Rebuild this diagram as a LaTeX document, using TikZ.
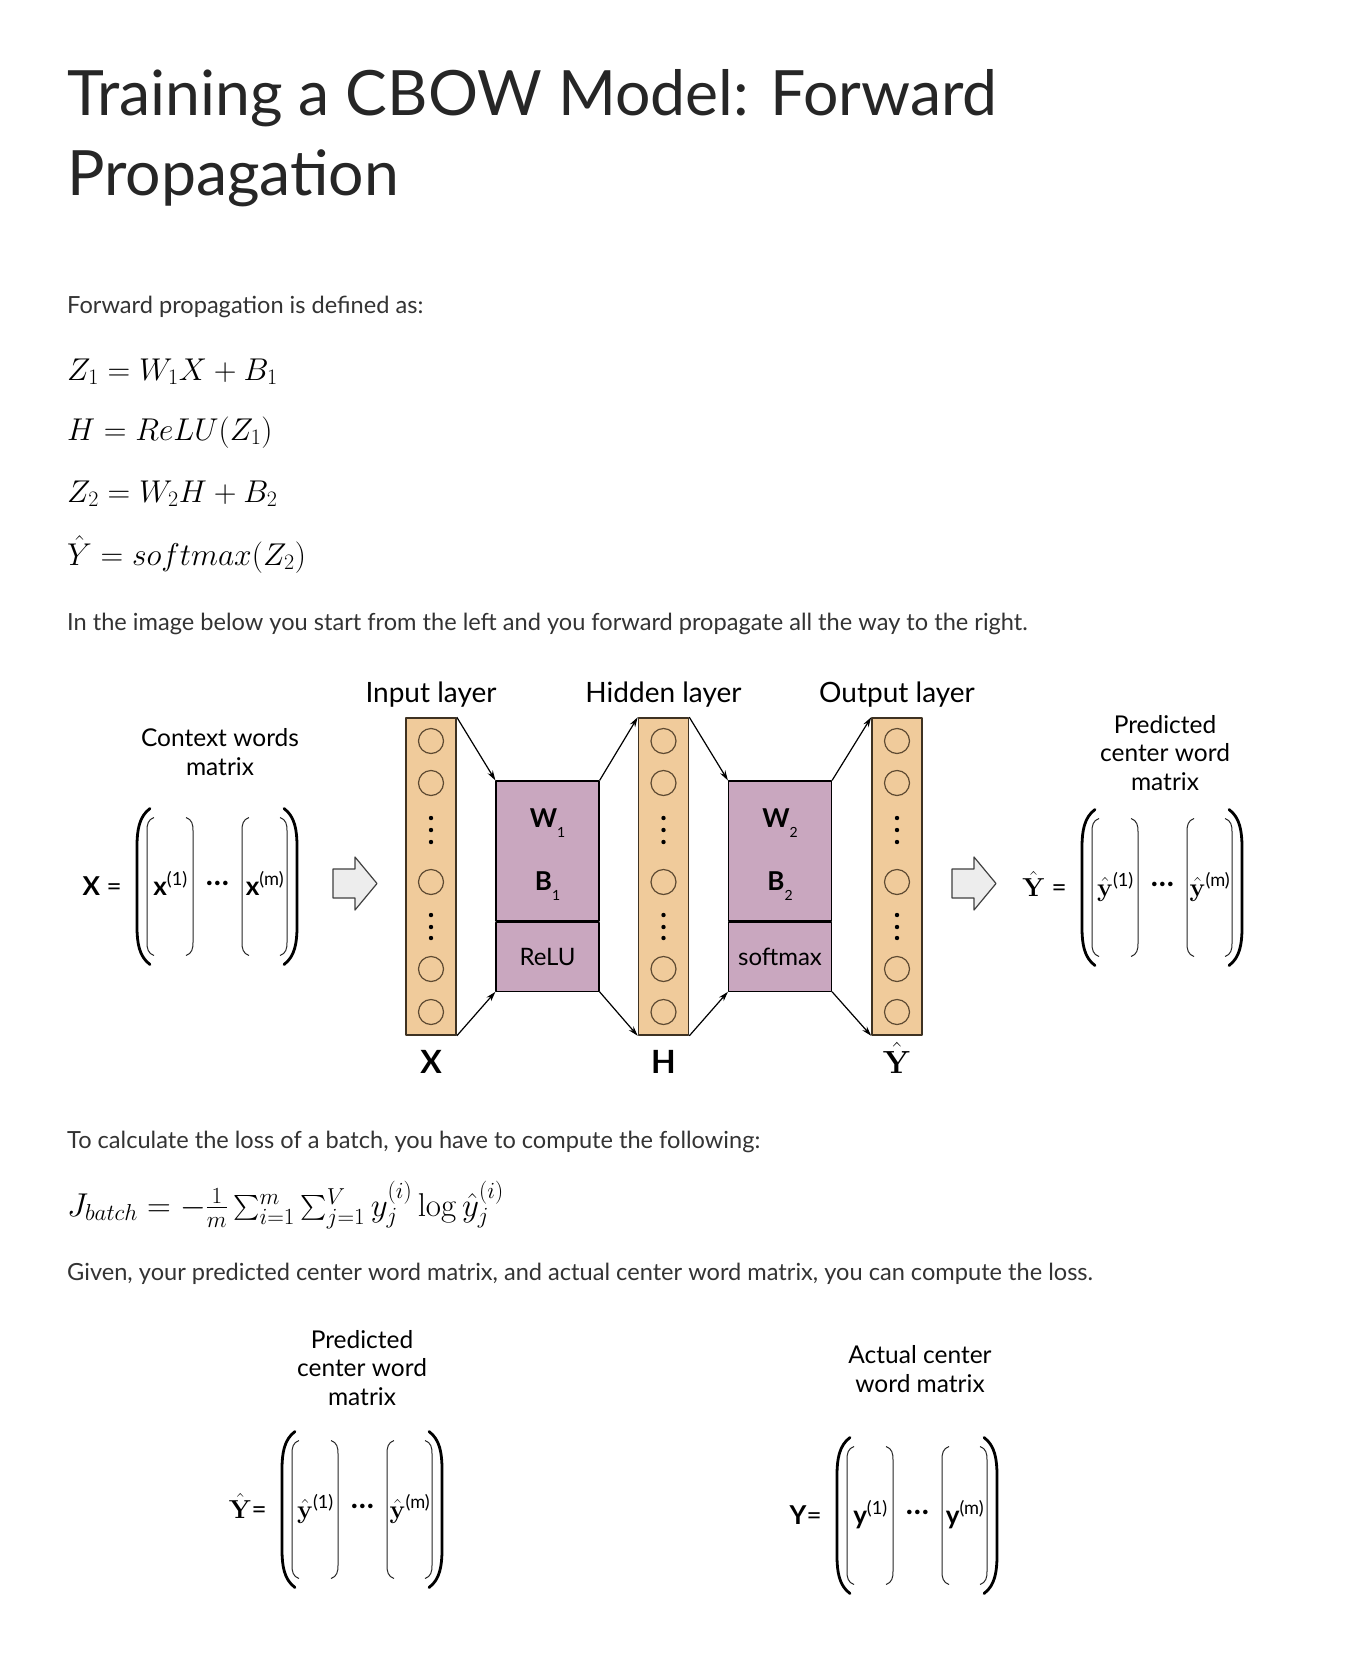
\RequirePackage{fix-cm}
\documentclass[tikz,border=0pt]{standalone}
\usepackage{amsmath}
\usepackage[no-math]{fontspec}
\setmainfont{Lato}
\usetikzlibrary{arrows.meta,positioning}

\definecolor{layertan}{HTML}{F0CB9B}
\definecolor{layeredge}{HTML}{3E3222}
\definecolor{neuronedge}{HTML}{5E4A32}
\definecolor{paramviolet}{HTML}{C9A7BF}
\definecolor{txtgray}{HTML}{333333}
\definecolor{titlegray}{HTML}{262626}

% subscript set low and apart, as in the layer boxes
\newcommand{\lowsub}[1]{\raisebox{-10pt}{\fontsize{14}{14}\selectfont\mdseries #1}}

\begin{document}
\begin{tikzpicture}[x=1pt, y=1pt, >={Stealth[length=10pt,width=6pt]}, line join=round,
    title/.style={anchor=base west, inner sep=0pt, text=titlegray, font=\fontsize{62.5}{75}\selectfont},
    body/.style={anchor=base west, inner sep=0pt, text=txtgray, font=\fontsize{23.6}{28}\selectfont},
    eqn/.style={anchor=base west, inner sep=0pt, text=black, font=\fontsize{31.5}{36}\selectfont},
    layer/.style={draw=layeredge, line width=1.6pt, fill=layertan, minimum width=50pt, minimum height=317pt, inner sep=0pt},
    param/.style={draw=black, line width=1.2pt, fill=paramviolet, minimum width=103pt, inner sep=0pt, font=\fontsize{24}{28}\selectfont},
    weight/.style={anchor=base, inner sep=0pt, font=\fontsize{26}{30}\selectfont\bfseries},
    headlabel/.style={anchor=base, inner sep=0pt, font=\fontsize{28}{32}\selectfont},
    footlabel/.style={anchor=base, inner sep=0pt, font=\fontsize{32}{36}\selectfont\bfseries},
    caption/.style={anchor=base, align=center, inner sep=0pt, font=\fontsize{24.5}{28.5}\selectfont},
    neuron/.style={draw=neuronedge, line width=1.2pt},
    flow/.style={->, line width=1.2pt},
    hollowarrow/.style={draw=black!75, line width=1.2pt, fill=black!7},
    outerparen/.style={line width=2.8pt, line cap=round},
    innerparen/.style={line width=1pt, draw=black!85},
    vector/.style={anchor=base, inner sep=0pt, font=\fontsize{26}{30}\selectfont},
    matlabel/.style={anchor=base east, inner sep=0pt, font=\fontsize{26}{30}\selectfont}]

    \fill[white] (0,0) rectangle (1360,-1670);
    \useasboundingbox (0,0) rectangle (1360,-1670);

    % title and text above the figure
    \node[title] (title1) at (67,-115) {Training a CBOW Model: Forward};
    \node[title] (title2) at (67,-195) {Propagation};
    \node[body] (intro) at (67,-313) {Forward propagation is defined as:};
    \node[eqn] (eq1) at (67,-380) {$Z_1 = W_1X + B_1$};
    \node[eqn] (eq2) at (67,-440) {$H = ReLU(Z_1)$};
    \node[eqn] (eq3) at (67,-502) {$Z_2 = W_2H + B_2$};
    \node[eqn] (eq4) at (67,-565) {$\hat{Y} = softmax(Z_2)$};
    \node[body] (lead) at (67,-630) {In the image below you start from the left and you forward propagate all the way to the right.};

    % the three layers
    \foreach \cx/\nm/\head/\foot in {431/incol/Input layer/\textbf{X}, 663.5/hidcol/Hidden layer/\textbf{H}, 897/outcol/Output layer/{$\hat{\mathbf{Y}}$}} {
        \node[layer] (\nm) at (\cx,-876.5) {};
        \node[headlabel] (\nm-head) at (\cx,-702) {\head};
        \node[footlabel] (\nm-foot) at (\cx,-1073) {\foot};
        \foreach \cy in {741,783,882,969,1012}
            \draw[neuron] (\cx,-\cy) circle (12.5);
        \foreach \cy in {818,830,842,915,927,938}
            \fill (\cx,-\cy) circle (2.2);
    }

    % weights, biases and activations
    \node[param, minimum height=140pt] (wb1) at (547.5,-851) {};
    \node[param, minimum height=69pt, below=0pt of wb1] (act1) {ReLU};
    \node[param, minimum height=140pt] (wb2) at (780,-851) {};
    \node[param, minimum height=69pt, below=0pt of wb2] (act2) {softmax};
    \node[weight] (w1) at (547.5,-827) {W\lowsub{1}};
    \node[weight] (b1) at (547.5,-890) {B\lowsub{1}};
    \node[weight] (w2) at (780,-827) {W\lowsub{2}};
    \node[weight] (b2) at (780,-890) {B\lowsub{2}};

    \draw[flow] (incol.north east) -- (wb1.north west);
    \draw[flow] (incol.south east) -- (act1.south west);
    \draw[flow] (wb1.north east) -- (hidcol.north west);
    \draw[flow] (act1.south east) -- (hidcol.south west);
    \draw[flow] (hidcol.north east) -- (wb2.north west);
    \draw[flow] (hidcol.south east) -- (act2.south west);
    \draw[flow] (wb2.north east) -- (outcol.north west);
    \draw[flow] (act2.south east) -- (outcol.south west);

    % block arrows into and out of the network
    \foreach \ax in {333,952}
        \draw[hollowarrow] (\ax,-869) -- (\ax+22,-869) -- (\ax+22,-857) -- (\ax+44,-883.5)
            -- (\ax+22,-910) -- (\ax+22,-898) -- (\ax,-898) -- cycle;

    % matrix captions (placed at the baseline of their last line)
    \node[caption] (ctxcap) at (220,-775) {Context words\\matrix};
    \node[caption] (predcap) at (1165,-790) {Predicted\\center word\\matrix};

    % text between the figures
    \node[body] (losslead) at (67,-1148) {To calculate the loss of a batch, you have to compute the following:};
    \node[eqn, font=\fontsize{33}{38}\selectfont] (loss) at (67,-1216) {$J_{batch} = -\frac{1}{m}\sum_{i=1}^{m}\sum_{j=1}^{V} y_j^{(i)} \log \hat{y}_j^{(i)}$};
    \node[body] (given) at (67,-1280) {Given, your predicted center word matrix, and actual center word matrix, you can compute the loss.};

    \node[caption] (predcap2) at (362,-1405) {Predicted\\center word\\matrix};
    \node[caption] (actcap) at (920,-1392) {Actual center\\word matrix};

    % column matrices: outer left edge, centre, label, first and last column
    \foreach \mx/\my/\lab/\va/\vb [count=\i] in {
        137/886.5/{\textbf{X} =}/{\textbf{x}\textsuperscript{(1)}}/{\textbf{x}\textsuperscript{(m)}},
        1082/887.5/{$\hat{\mathbf{Y}}$ =}/{$\hat{\mathbf{y}}$\textsuperscript{(1)}}/{$\hat{\mathbf{y}}$\textsuperscript{(m)}},
        282/1509.5/{$\hat{\mathbf{Y}}$=}/{$\hat{\mathbf{y}}$\textsuperscript{(1)}}/{$\hat{\mathbf{y}}$\textsuperscript{(m)}},
        837/1515.5/{\textbf{Y}=}/{\textbf{y}\textsuperscript{(1)}}/{\textbf{y}\textsuperscript{(m)}}} {
        \draw[outerparen] (\mx+13,-\my+78) .. controls (\mx+2,-\my+70) and (\mx,-\my+56) .. (\mx,-\my+40)
            -- (\mx,-\my-40) .. controls (\mx,-\my-56) and (\mx+2,-\my-70) .. (\mx+13,-\my-78);
        \draw[outerparen] (\mx+147,-\my+78) .. controls (\mx+158,-\my+70) and (\mx+160,-\my+56) .. (\mx+160,-\my+40)
            -- (\mx+160,-\my-40) .. controls (\mx+160,-\my-56) and (\mx+158,-\my-70) .. (\mx+147,-\my-78);
        \foreach \il/\ir in {10/56,105/150} {
            \draw[innerparen] (\mx+\il+7,-\my+69) .. controls (\mx+\il+1,-\my+67) and (\mx+\il,-\my+62) .. (\mx+\il,-\my+56)
                -- (\mx+\il,-\my-56) .. controls (\mx+\il,-\my-62) and (\mx+\il+1,-\my-67) .. (\mx+\il+7,-\my-69);
            \draw[innerparen] (\mx+\ir-7,-\my+69) .. controls (\mx+\ir-1,-\my+67) and (\mx+\ir,-\my+62) .. (\mx+\ir,-\my+56)
                -- (\mx+\ir,-\my-56) .. controls (\mx+\ir,-\my-62) and (\mx+\ir-1,-\my-67) .. (\mx+\ir-7,-\my-69);
        }
        \node[vector] (va-\i) at (\mx+33.5,-\my-8.5) {\va};
        \node[vector] (vb-\i) at (\mx+128,-\my-8.5) {\vb};
        \node[vector, anchor=center, font=\fontsize{30}{34}\selectfont\bfseries] (dots-\i) at (\mx+80.5,-\my+3.5) {\textellipsis};
        \node[matlabel] (lab-\i) at (\mx-15,-\my-8.5) {\lab};
    }
\end{tikzpicture}
\end{document}
